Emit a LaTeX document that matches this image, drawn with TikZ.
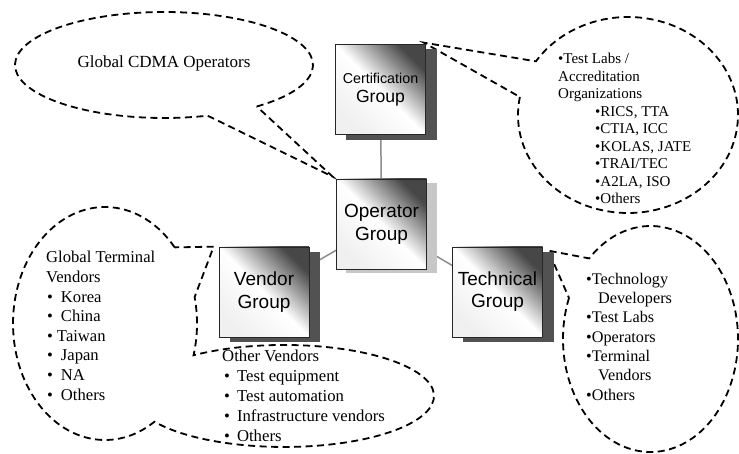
\documentclass[tikz,border=0pt]{standalone}
\usepackage{fontspec}
\setmainfont{Liberation Serif}
\newfontfamily\boxfont{Liberation Sans}
\usetikzlibrary{calc,backgrounds}
\begin{document}
\begin{tikzpicture}[x=1pt,y=1pt,
  box/.style={draw=black!85, line width=0.7pt, minimum width=90pt, minimum height=90pt,
    inner sep=0pt, align=center, top color=black!72, bottom color=black!6,
    middle color=white, shading angle=-45},
  callout/.style={draw=black, line width=1.8pt, dash pattern=on 7pt off 4.5pt, fill=white, line join=miter},
  link/.style={draw=black!45, line width=1.5pt},
  shadowdark/.style={fill=black!68},
  shadowlight/.style={fill=black!22},
  txt/.style={anchor=base west, inner sep=0pt, align=left},
]
\useasboundingbox (0,0) rectangle (739,453);

% group boxes
\node[box, font=\boxfont\fontsize{17.6}{18.3}\selectfont] (cert) at (380.5,363.5)
  {{\fontsize{14.3}{18.3}\selectfont Certification}\\Group};
\node[box, font=\boxfont\fontsize{19}{22.7}\selectfont] (op) at (381.5,229) {Operator\\Group};
\node[box, font=\boxfont\fontsize{19}{22.5}\selectfont] (vendor) at (264,161) {Vendor\\Group};
\node[box, font=\boxfont\fontsize{19}{22}\selectfont] (tech) at (497.5,161) {Technical\\Group};

% tips of the callouts
\coordinate (tipop) at ($(op.north west)+(-3.5,2)$);
\coordinate (tipcert) at ($(cert.north east)+(-2,1.5)$);
\coordinate (tiptech) at ($(tech.north east)+(5.5,-4)$);
\coordinate (tipvendor) at ($(vendor.north west)+(-5,0)$);

\begin{scope}[on background layer]
  % Global CDMA operators callout
  \draw[callout] ($(164,388)+(-51.5:149pt and 53pt)$)
    arc[start angle=-51.5, end angle=287, x radius=149pt, y radius=53pt]
    -- (tipop) -- cycle;
  % Certification callout
  \draw[callout] ($(628,338)+(169.4:110pt and 98pt)$)
    arc[start angle=169.4, end angle=506.8, x radius=110pt, y radius=98pt]
    -- (tipcert) -- cycle;
  % Technical callout
  \draw[callout] ($(650.5,114)+(158.7:87.5pt and 113pt)$)
    arc[start angle=158.7, end angle=494.5, x radius=87.5pt, y radius=113pt]
    -- (tiptech) -- cycle;
  % Vendor callouts (union of two ellipses)
  \draw[callout] ($(105,129.5)+(40.8:92pt and 116.5pt)$)
    arc[start angle=40.8, end angle=302.55, x radius=92pt, y radius=116.5pt]
    arc[start angle=210.3, end angle=487.1, x radius=150pt, y radius=51pt]
    arc[start angle=-15.85, end angle=13.1, x radius=92pt, y radius=116.5pt]
    -- (tipvendor) -- cycle;
  % connectors
  \draw[link] (cert.center) -- (op.center);
  \draw[link] (op.center) -- (vendor.center);
  \draw[link] (op.center) -- (tech.center);
  % shadows
  \fill[shadowdark] ($(cert.south west)+(11,-5)$) rectangle ($(cert.north east)+(11,-5)$);
  \fill[shadowlight] ($(op.south west)+(10,-4)$) rectangle ($(op.north east)+(10,-4)$);
  \fill[shadowdark] ($(vendor.south west)+(11,-5)$) rectangle ($(vendor.north east)+(11,-5)$);
  \fill[shadowdark] ($(tech.south west)+(11,-5)$) rectangle ($(tech.north east)+(11,-5)$);
\end{scope}

% texts (anchor is the baseline of the last line)
\node[txt, anchor=base, font=\fontsize{17}{20}\selectfont] (cdma) at (164,385) {Global CDMA Operators};

\node[txt, font=\fontsize{15}{17.5}\selectfont] (certlist) at (558,249)
  {•Test Labs /\\Accreditation\\Organizations\\
   \hspace{37pt}•RICS, TTA\\\hspace{37pt}•CTIA, ICC\\\hspace{37pt}•KOLAS, JATE\\
   \hspace{37pt}•TRAI/TEC\\\hspace{37pt}•A2LA, ISO\\\hspace{37pt}•Others};

\node[txt, font=\fontsize{16.2}{19.3}\selectfont] (techlist) at (586,53)
  {•Technology\\\hspace{12pt}Developers\\•Test Labs\\•Operators\\•Terminal\\\hspace{12pt}Vendors\\•Others};

\node[txt, font=\fontsize{16.6}{19.6}\selectfont] (gtvlist) at (46,53)
  {Global Terminal\\Vendors\\
   \hspace{1pt}•\hspace{8pt}Korea\\\hspace{1pt}•\hspace{8pt}China\\\hspace{1pt}•\hspace{4pt}Taiwan\\
   \hspace{1pt}•\hspace{8pt}Japan\\\hspace{1pt}•\hspace{8pt}NA\\\hspace{1pt}•\hspace{8pt}Others};

\node[txt, font=\fontsize{16.7}{20}\selectfont] (ovlist) at (222,12)
  {Other Vendors\\
   \hspace{2pt}•\hspace{7pt}Test equipment\\\hspace{2pt}•\hspace{7pt}Test automation\\
   \hspace{2pt}•\hspace{7pt}Infrastructure vendors\\\hspace{2pt}•\hspace{7pt}Others};
\end{tikzpicture}
\end{document}
